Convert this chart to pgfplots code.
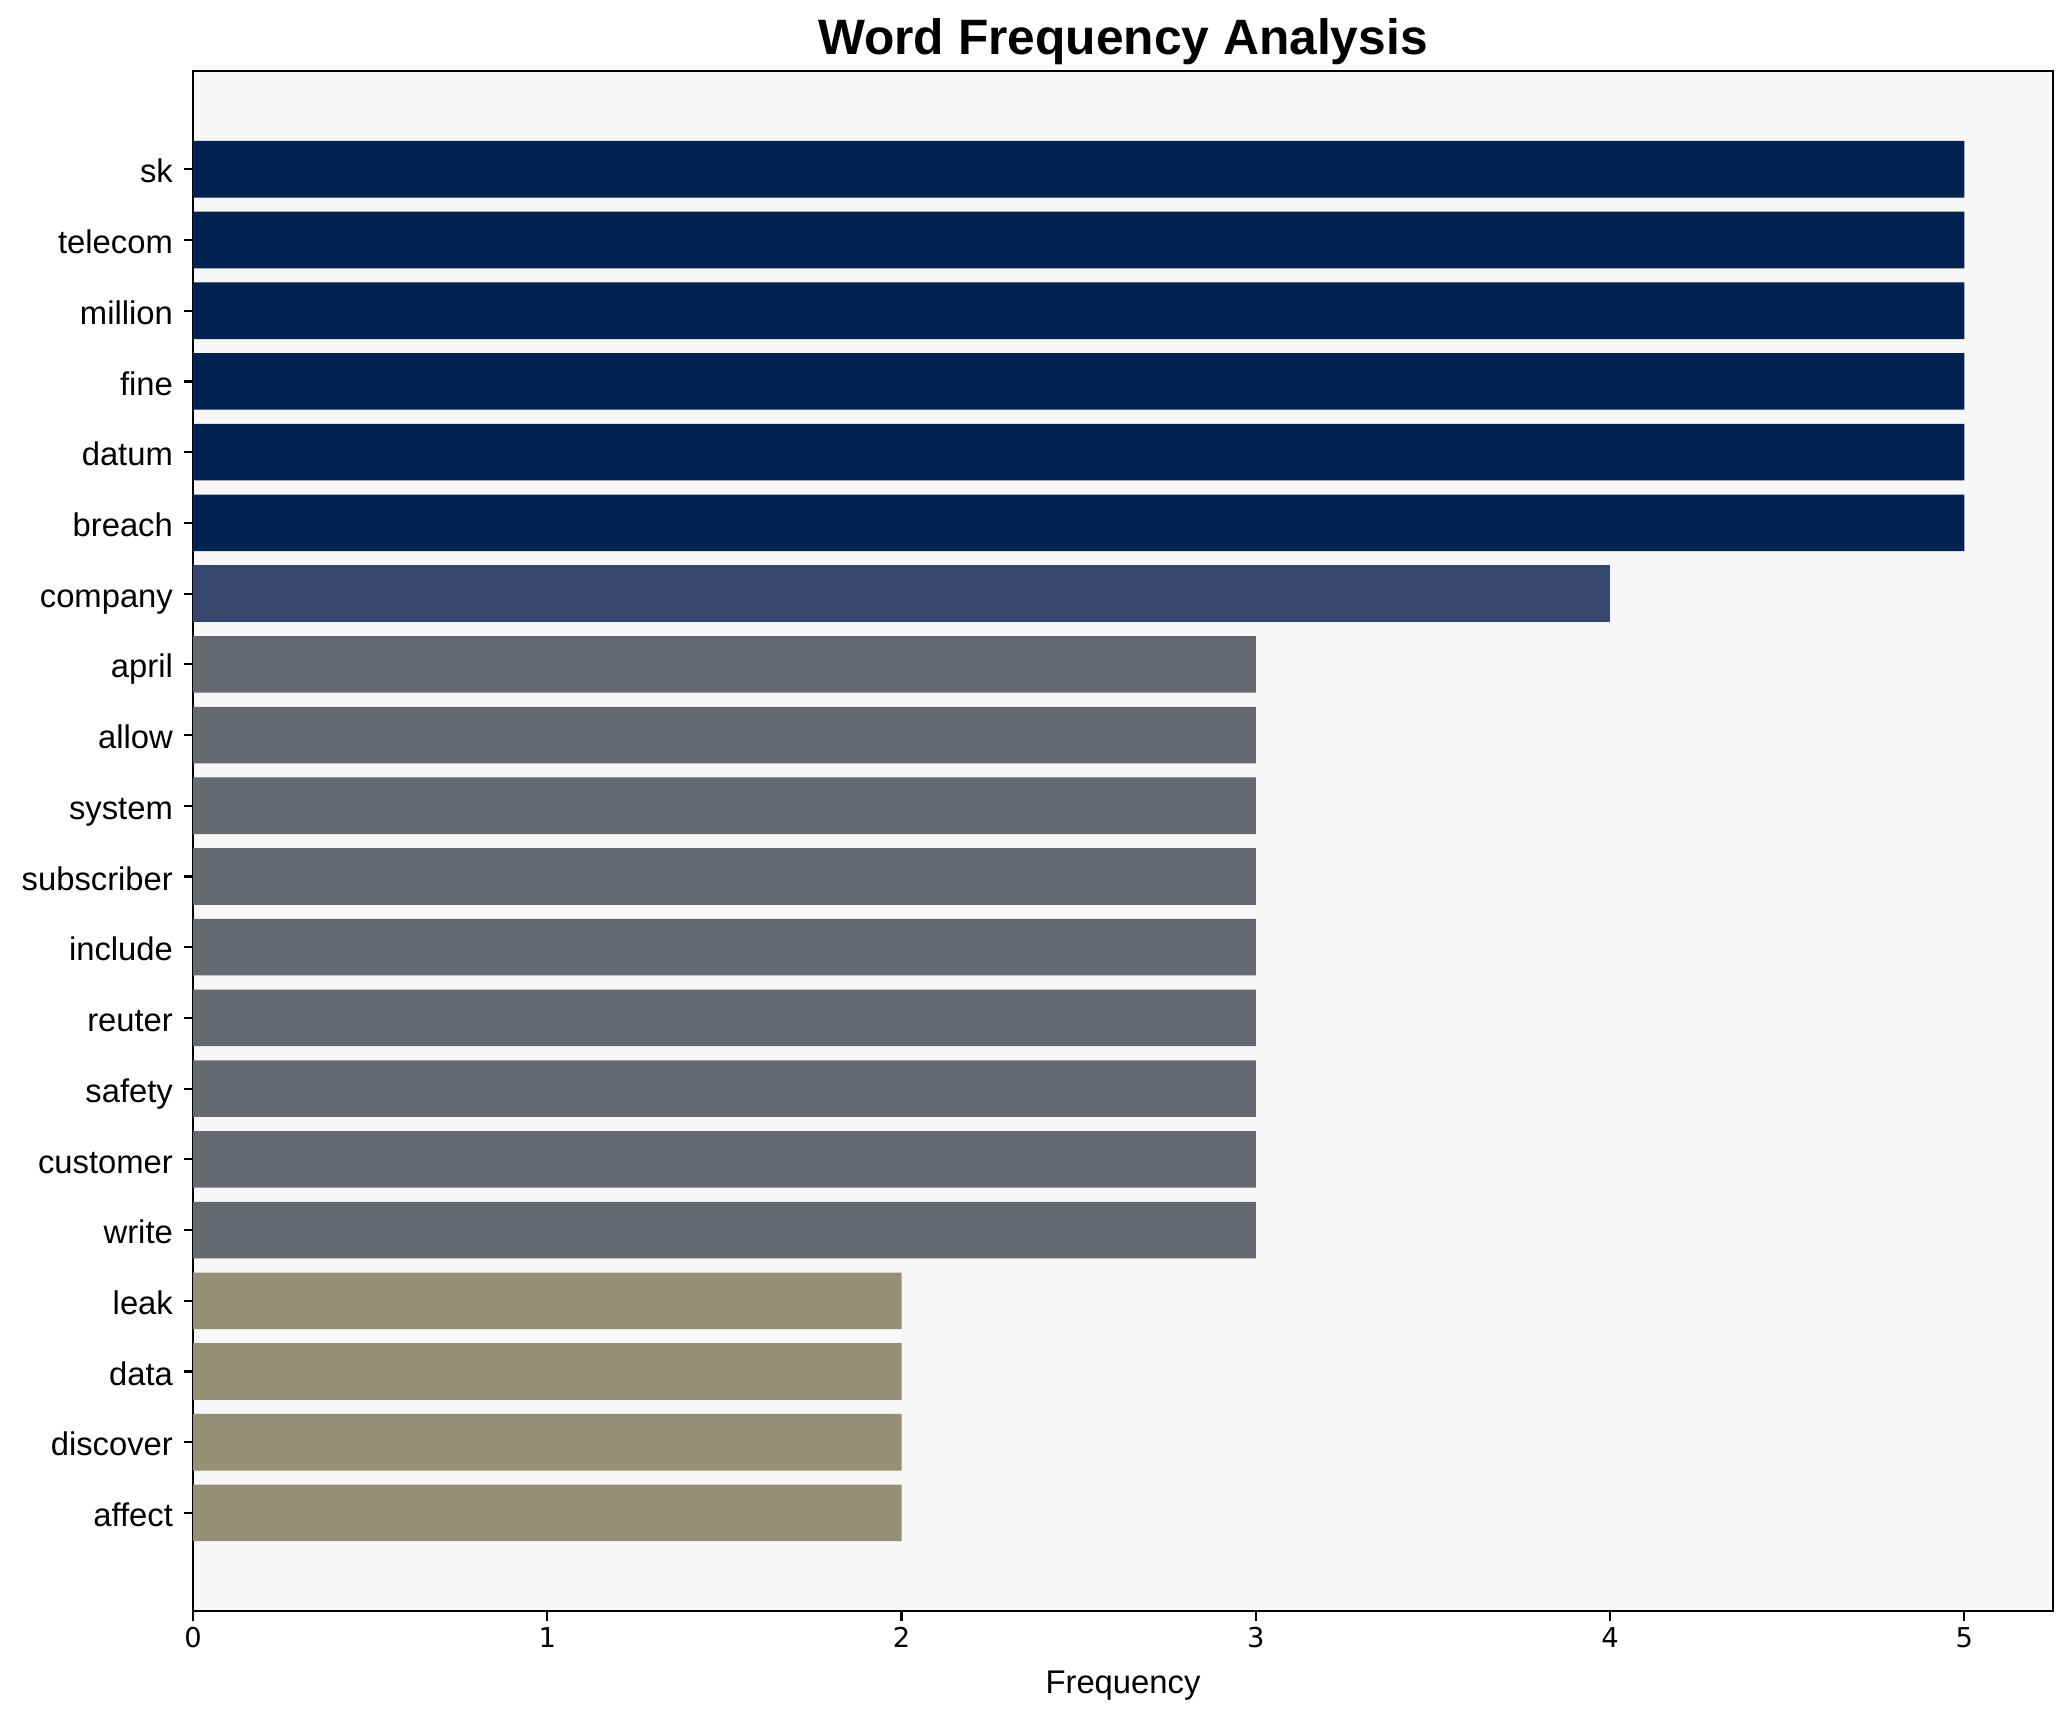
\documentclass[border=0pt]{standalone}
\usepackage{pgfplots}
\pgfplotsset{compat=1.18}
\usepackage{fontspec}
\setmainfont{Liberation Sans}
\newfontfamily\dejavu{DejaVu Sans}

\definecolor{navy}{HTML}{00224E}
\definecolor{slate}{HTML}{36466C}
\definecolor{midgray}{HTML}{676970}
\definecolor{tan}{HTML}{958F76}
\definecolor{bgcol}{HTML}{F7F7F7}

\begin{document}
\begin{tikzpicture}
\useasboundingbox (-70.7pt,-40.7pt) rectangle (688pt,590pt);
\begin{axis}[
    at={(0,0)}, anchor=south west,
    scale only axis,
    width=681pt, height=564pt,
    xmin=0, xmax=5.25,
    ymin=-1.39, ymax=20.39,
    axis background/.style={fill=bgcol},
    axis line style={line width=0.8pt},
    every tick/.style={black, line width=0.8pt},
    major tick length=3.5pt,
    tick align=outside,
    xtick pos=bottom, ytick pos=left,
    xtick={0,1,2,3,4,5},
    ytick={0,...,19},
    yticklabels={affect,discover,data,leak,write,customer,safety,reuter,include,subscriber,system,allow,april,company,breach,datum,fine,million,telecom,sk},
    /pgf/number format/assume math mode=true,
    xticklabel style={font=\dejavu\fontsize{10}{12}\selectfont, anchor=base, yshift=-9.6pt},
    yticklabel style={font=\fontsize{12}{14}\selectfont, anchor=base east, inner sep=0pt, xshift=-3.7pt, yshift=-5pt},
    title={Word Frequency Analysis},
    title style={font=\bfseries\fontsize{18.2}{22}\selectfont, at={(axis description cs:0.5,1)}, anchor=base},
    xlabel={Frequency},
    xlabel style={font=\fontsize{12}{14}\selectfont, at={(axis description cs:0.5,0)}, anchor=base, yshift=-30pt},
    xbar, bar width=0.8, bar shift=0pt,
]
\addplot[draw=none, fill=navy] coordinates {(5,19) (5,18) (5,17) (5,16) (5,15) (5,14)};
\addplot[draw=none, fill=slate] coordinates {(4,13)};
\addplot[draw=none, fill=midgray] coordinates {(3,12) (3,11) (3,10) (3,9) (3,8) (3,7) (3,6) (3,5) (3,4)};
\addplot[draw=none, fill=tan] coordinates {(2,3) (2,2) (2,1) (2,0)};
\end{axis}
\end{tikzpicture}
\end{document}
